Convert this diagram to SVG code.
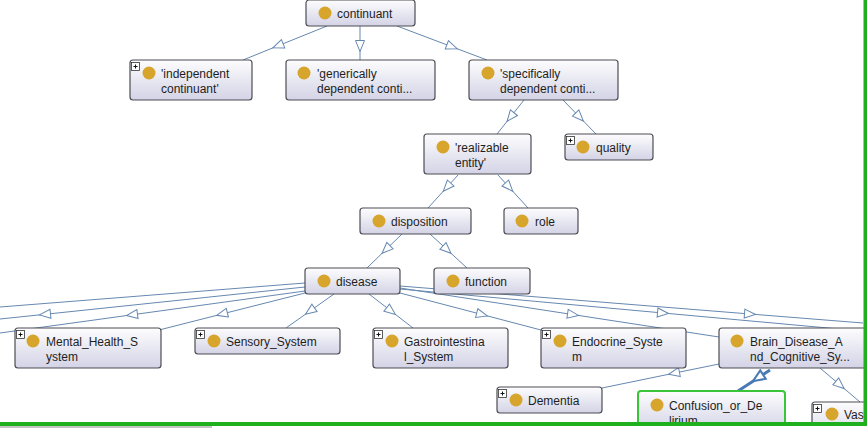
<svg xmlns="http://www.w3.org/2000/svg" width="867" height="428" viewBox="0 0 867 428">
<style>
.n rect.b{fill:url(#g);stroke:#4d4d55;stroke-width:1.2}
.n circle{fill:#d7a42c}
.n text{font-family:"Liberation Sans",Arial,sans-serif;font-size:12px;fill:#1e1e1e}
.e polyline,.e line{fill:none;stroke:#6688b0;stroke-width:1}
.p rect{fill:#fff;stroke:#333;stroke-width:0.8}
.p path{stroke:#111;stroke-width:1;fill:none}
</style>
<defs>
<linearGradient id="g" x1="0" y1="0" x2="0" y2="1">
<stop offset="0" stop-color="#fdfdfe"/>
<stop offset="1" stop-color="#d3d3e6"/>
</linearGradient>
<marker id="t" viewBox="-7 -6 14 12" refX="0" refY="0" markerWidth="14" markerHeight="12" markerUnits="userSpaceOnUse" orient="auto">
<path d="M-5.5,-4.5 L5.5,0 L-5.5,4.5 Z" fill="#fff" stroke="#6688b0" stroke-width="1"/>
</marker>
<marker id="tb" viewBox="-8 -7 16 14" refX="0" refY="0" markerWidth="16" markerHeight="14" markerUnits="userSpaceOnUse" orient="auto">
<path d="M-6,-5 L6,0 L-6,5 Z" fill="#fff" stroke="#4a7ab5" stroke-width="2"/>
</marker>
<g id="plus" class="p"><rect x="0.5" y="0.5" width="8" height="8"/><path d="M2.5,4.5 H6.5 M4.5,2.5 V6.5"/></g>
</defs>
<rect width="867" height="428" fill="#fff"/>
<g id="connectors" class="e">
<polyline points="327,26 278,45.8 243,60" marker-mid="url(#t)"/>
<polyline points="360,26 360,46 360,60" marker-mid="url(#t)"/>
<polyline points="397,26 452,46.8 487,60" marker-mid="url(#t)"/>
<polyline points="524,100 510.5,117 497,134" marker-mid="url(#t)"/>
<polyline points="563,100 579.5,117 596,134" marker-mid="url(#t)"/>
<polyline points="458,175 447,187.1 428,208" marker-mid="url(#t)"/>
<polyline points="498,175 509,187.1 528,208" marker-mid="url(#t)"/>
<polyline points="402,234 386,249.5 367,268" marker-mid="url(#t)"/>
<polyline points="430,234 447,249.6 467,268" marker-mid="url(#t)"/>
<line x1="305" y1="283" x2="0" y2="307"/>
<polyline points="305,287 45,314.3 0,319" marker-mid="url(#t)"/>
<polyline points="305,291 132,314.8 0,333" marker-mid="url(#t)"/>
<polyline points="305,293 222,314 161,329.5" marker-mid="url(#t)"/>
<polyline points="334,294 310,311 286,328" marker-mid="url(#t)"/>
<polyline points="369,294 391,311 413,328" marker-mid="url(#t)"/>
<polyline points="400,293 482,314.5 541,330" marker-mid="url(#t)"/>
<polyline points="400,288 573,314.6 719,337" marker-mid="url(#t)"/>
<polyline points="400,289 663,313 863,331.2" marker-mid="url(#t)"/>
<polyline points="400,286 750,314 863,323" marker-mid="url(#t)"/>
<polyline points="719,364 674,373.2 602,388" marker-mid="url(#t)"/>
<polyline points="820,368 840,385 860,402" marker-mid="url(#t)"/>
<polyline points="770,370 758,377.9 738,391" marker-mid="url(#tb)" style="stroke:#4a7ab5;stroke-width:3"/>
</g>
<g id="continuant" class="n"><rect class="b" x="306" y="0" width="109" height="26" rx="3"/><circle cx="325" cy="13" r="6.5"/><text x="337" y="17.5">continuant</text></g>
<g id="independent" class="n"><rect class="b" x="130" y="60" width="122" height="40" rx="3"/><use href="#plus" x="131" y="62"/><circle cx="149" cy="73" r="6.5"/><text x="161" y="77.5">'independent</text><text x="161" y="92.5">continuant'</text></g>
<g id="generically" class="n"><rect class="b" x="286" y="60" width="149" height="40" rx="3"/><circle cx="304" cy="73" r="6.5"/><text x="317" y="77.5">'generically</text><text x="317" y="92.5">dependent conti...</text></g>
<g id="specifically" class="n"><rect class="b" x="469" y="60" width="149" height="40" rx="3"/><circle cx="488" cy="73" r="6.5"/><text x="500" y="77.5">'specifically</text><text x="500" y="92.5">dependent conti...</text></g>
<g id="realizable" class="n"><rect class="b" x="424" y="134" width="107" height="40" rx="3"/><circle cx="443" cy="147" r="6.5"/><text x="455" y="151.5">'realizable</text><text x="455" y="166.5">entity'</text></g>
<g id="quality" class="n"><rect class="b" x="565" y="134" width="88" height="26" rx="3"/><use href="#plus" x="566" y="136"/><circle cx="583" cy="147" r="6.5"/><text x="596" y="151.5">quality</text></g>
<g id="disposition" class="n"><rect class="b" x="360" y="208" width="111" height="26" rx="3"/><circle cx="379" cy="221" r="6.5"/><text x="391" y="225.5">disposition</text></g>
<g id="role" class="n"><rect class="b" x="504" y="208" width="74" height="26" rx="3"/><circle cx="522" cy="221" r="6.5"/><text x="535" y="225.5">role</text></g>
<g id="disease" class="n"><rect class="b" x="305" y="268" width="95" height="26" rx="3"/><circle cx="324" cy="281" r="6.5"/><text x="336" y="285.5">disease</text></g>
<g id="function" class="n"><rect class="b" x="434" y="268" width="96" height="26" rx="3"/><circle cx="453" cy="281" r="6.5"/><text x="465" y="285.5">function</text></g>
<g id="mental" class="n"><rect class="b" x="15" y="328" width="146" height="40" rx="3"/><use href="#plus" x="16" y="330"/><circle cx="33" cy="341" r="6.5"/><text x="46" y="345.5">Mental_Health_S</text><text x="46" y="360.5">ystem</text></g>
<g id="sensory" class="n"><rect class="b" x="195" y="328" width="145" height="26" rx="3"/><use href="#plus" x="196" y="330"/><circle cx="214" cy="341" r="6.5"/><text x="226" y="345.5">Sensory_System</text></g>
<g id="gastro" class="n"><rect class="b" x="373" y="328" width="135" height="40" rx="3"/><use href="#plus" x="374" y="330"/><circle cx="392" cy="341" r="6.5"/><text x="404" y="345.5">Gastrointestina</text><text x="404" y="360.5">l_System</text></g>
<g id="endocrine" class="n"><rect class="b" x="541" y="328" width="145" height="40" rx="3"/><use href="#plus" x="542" y="330"/><circle cx="560" cy="341" r="6.5"/><text x="572" y="345.5">Endocrine_Syste</text><text x="572" y="360.5">m</text></g>
<g id="brain" class="n"><rect class="b" x="719" y="328" width="150" height="40" rx="3"/><circle cx="737" cy="341" r="6.5"/><text x="750" y="345.5">Brain_Disease_A</text><text x="750" y="360.5">nd_Cognitive_Sy...</text></g>
<g id="dementia" class="n"><rect class="b" x="497" y="387" width="105" height="26" rx="3"/><use href="#plus" x="498" y="389"/><circle cx="516" cy="400" r="6.5"/><text x="528" y="404.5">Dementia</text></g>
<g id="confusion" class="n"><rect class="b" x="638" y="391" width="147" height="40" rx="3" style="stroke:#3ac43a;stroke-width:2"/><circle cx="657" cy="405" r="6.5"/><text x="669" y="409.5">Confusion_or_De</text><text x="669" y="424.5">lirium</text></g>
<g id="vas" class="n"><rect class="b" x="812" y="402" width="80" height="40" rx="3"/><use href="#plus" x="813" y="404"/><circle cx="832" cy="414" r="6.5"/><text x="844" y="418.5">Vas</text></g>
<g id="frame">
<rect x="0" y="426" width="867" height="2" fill="#ffffff"/>
<rect x="0" y="426" width="212" height="2" fill="#c4c4c4"/>
<rect x="0" y="422" width="867" height="4" fill="#1fb01f"/>
<rect x="863.5" y="0" width="3.5" height="426" fill="#1fb01f"/>
</g>
</svg>
